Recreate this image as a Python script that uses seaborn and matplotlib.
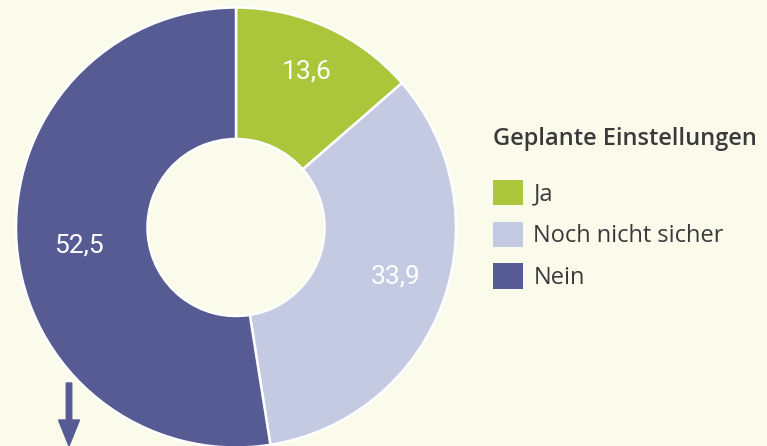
import matplotlib
matplotlib.use("Agg")
import matplotlib.pyplot as plt
import matplotlib.patches as mpatches
import numpy as np
import seaborn as sns

categories = ["Ja", "Noch nicht sicher", "Nein"]
values = [13.6, 33.9, 52.5]
value_labels = ["13,6", "33,9", "52,5"]
legend_title = "Geplante Einstellungen"
colors = ["#ABC63A", "#C5CAE3", "#565C93"]

BG = "#FAFBEB"
TEXT = "#3A3A3A"

sns.set_theme(style="white")
plt.rcParams["font.family"] = ["Roboto", "DejaVu Sans"]

W, H = 767, 446
fig = plt.figure(figsize=(W / 100, H / 100), dpi=100)
fig.patch.set_facecolor(BG)

cx, cy, R = 236, 446 - 227.5, 220
ax = fig.add_axes([(cx - R) / W, (cy - R) / H, 2 * R / W, 2 * R / H])
ax.set_facecolor("none")

wedges, _ = ax.pie(
    values,
    colors=colors,
    startangle=90,
    counterclock=False,
    radius=1.0,
    wedgeprops=dict(width=1 - 88.5 / 220, edgecolor="white", linewidth=1.8),
)
label_r = [0.78, 0.76, 0.72]
label_off = [0.0, 2.8, 2.0]
for w, lab, r, off in zip(wedges, value_labels, label_r, label_off):
    ang = np.deg2rad((w.theta1 + w.theta2) / 2 + off)
    ax.text(r * np.cos(ang), r * np.sin(ang), lab, ha="center", va="center",
            color="white", fontsize=19)
ax.set_xlim(-1, 1)
ax.set_ylim(-1, 1)
ax.set_aspect("equal")
ax.axis("off")

# Legend
handles = [mpatches.Patch(facecolor=c, edgecolor="none") for c in colors]
leg = fig.legend(
    handles, categories,
    title=legend_title,
    loc="upper left",
    bbox_to_anchor=(481 / W, 1 - 115 / H),
    frameon=False,
    prop={"family": ["Open Sans", "DejaVu Sans"], "size": 17},
    title_fontproperties={"family": ["Open Sans", "DejaVu Sans"], "size": 17, "weight": "semibold"},
    handlelength=1.27, handleheight=1.27, handletextpad=0.45,
    labelspacing=0.64, alignment="left", borderpad=0,
)
for t in leg.get_texts():
    t.set_color(TEXT)
leg.get_title().set_color(TEXT)
leg._legend_box.sep = 21

# Arrow
fig.patches.append(mpatches.FancyArrow(
    69 / W, 1 - 383 / H, 0, -(446 - 383) / H,
    width=5.5 / W, head_width=21 / W, head_length=26 / H,
    length_includes_head=True, color="#565C93",
    transform=fig.transFigure, figure=fig))

fig.savefig("out.png", dpi=100, facecolor=BG)
